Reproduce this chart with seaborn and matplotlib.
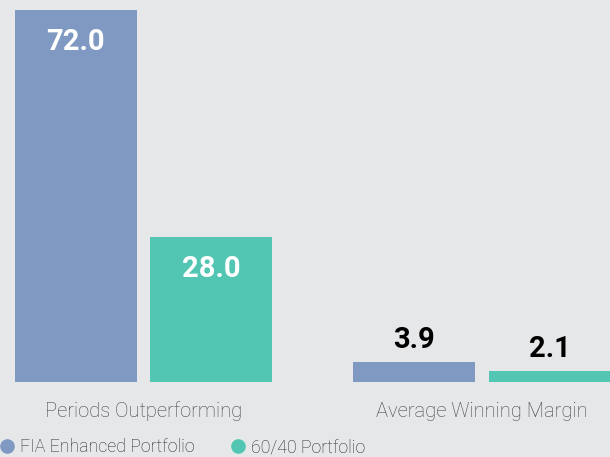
import pandas as pd
import matplotlib.pyplot as plt
import seaborn as sns
from matplotlib.lines import Line2D

categories = ['Periods Outperforming', 'Average Winning Margin']
series = ['FIA Enhanced Portfolio', '60/40 Portfolio']
fia_values = [72.0, 3.9]
mix_values = [28.0, 2.1]

colors = ['#7f99c2', '#52c6b2']
bg = '#e6e7e9'

df = pd.DataFrame({
    'category': categories * 2,
    'portfolio': [series[0]] * 2 + [series[1]] * 2,
    'value': fia_values + mix_values,
})

sns.set_theme(style='white')
plt.rcParams['font.family'] = ['Roboto', 'DejaVu Sans']

fig = plt.figure(figsize=(6.1, 4.57), dpi=100, facecolor=bg)
ax = fig.add_axes([0, 75 / 457, 1, 382 / 457])
ax.set_facecolor(bg)

sns.barplot(data=df, x='category', y='value', hue='portfolio', palette=colors,
            width=0.8, gap=0.1, order=categories, hue_order=series,
            legend=False, ax=ax, saturation=1, linewidth=0, edgecolor='none')

ax.set_xlim(-0.424, 1.378)
ax.set_ylim(0, 73.93)
ax.set_yticks([])
ax.set_xticks([])
ax.set_xlabel('')
ax.set_ylabel('')
for s in ax.spines.values():
    s.set_visible(False)

# value labels: inside big bars, above small ones
for container in ax.containers:
    for bar in container:
        h = bar.get_height()
        cx = bar.get_x() + bar.get_width() / 2
        if h > 10:
            ax.annotate(f'{h:.1f}', (cx, h), xytext=(0, -23), textcoords='offset points',
                        ha='center', va='center', color='white', fontsize=21, fontweight='bold')
        else:
            ax.annotate(f'{h:.1f}', (cx, h), xytext=(0, 16), textcoords='offset points',
                        ha='center', va='center', color='black', fontsize=21, fontweight='bold')

# category labels under the groups
for i, cat in enumerate(categories):
    ax.annotate(cat, (i, 0), xytext=(0, -21), textcoords='offset points',
                ha='center', va='center', color='#444444', fontsize=14.5, fontweight='light')

handles = [Line2D([0], [0], marker='o', linestyle='', markersize=9.5,
                  markerfacecolor=c, markeredgecolor=c) for c in colors]
fig.legend(handles, series, loc='lower left', bbox_to_anchor=(0, 0.002), ncol=2,
           frameon=False, borderpad=0, borderaxespad=0, handlelength=0.8,
           handletextpad=0.35, columnspacing=2.0,
           labelcolor='#2a2a2a', prop={'weight': 'light', 'size': 12.8})

fig.savefig('out.png', dpi=100, facecolor=bg)
